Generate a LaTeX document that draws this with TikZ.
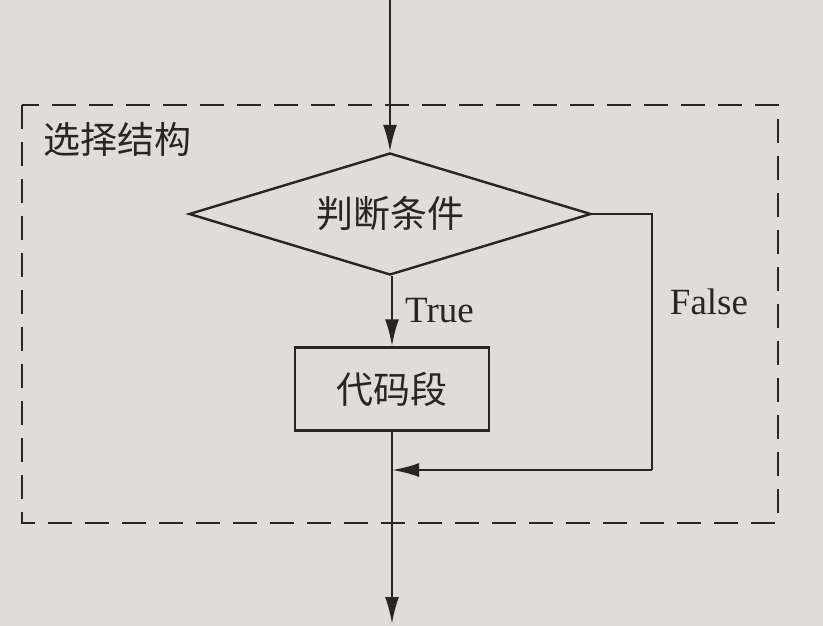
\documentclass[tikz,border=0pt]{standalone}
\usepackage{fontspec}
\setmainfont{Liberation Serif}
\newfontfamily\cjk{Noto Sans CJK SC}
\usetikzlibrary{shapes.geometric,arrows.meta}
\definecolor{paper}{HTML}{DEDDDB}
\definecolor{ink}{HTML}{2A2522}
\tikzset{
  ln/.style={draw=ink, line width=2.4pt},
  arr/.style={ln, -{Latex[length=27pt,width=14pt]}},
  lbl/.style={text=ink, font=\fontsize{37}{40}\selectfont},
  clbl/.style={text=ink, font=\cjk\fontsize{37}{40}\selectfont},
}
\begin{document}
\begin{tikzpicture}[x=1pt,y=-1pt]
\fill[paper] (0,0) rectangle (823,626);
\useasboundingbox (0,0) rectangle (823,626);
\draw[ink, line width=2.4pt, dash pattern=on 24pt off 13pt] (22,105) rectangle (778,523);
\node[clbl, anchor=west, inner sep=0pt] (title) at (43,139) {选择结构};
\node[diamond, ln, minimum width=402pt, minimum height=122pt, inner sep=0pt, aspect=3.3, clbl] (cond) at (390,214) {判断条件};
\coordinate (start) at (390,0);
\node[rectangle, ln, minimum width=194pt, minimum height=83pt, clbl] (code) at (392,389) {代码段};
\coordinate (join) at (392,470);
\coordinate (end) at (392,624);
\coordinate (rt) at (652,214);
\coordinate (rb) at (652,470);
\draw[arr] (start) -- (cond.north);
\draw[arr] (cond.south -| code.north) -- (code.north);
\node[lbl, anchor=west, inner sep=0pt] (true) at (405,311) {True};
\draw[arr] (code.south) -- (end);
\draw[ln] (cond.east) -- (rt) -- (rb);
\draw[arr] (rb) -- (join);
\node[lbl, inner sep=0pt] (false) at (709,302) {False};
\end{tikzpicture}
\end{document}
